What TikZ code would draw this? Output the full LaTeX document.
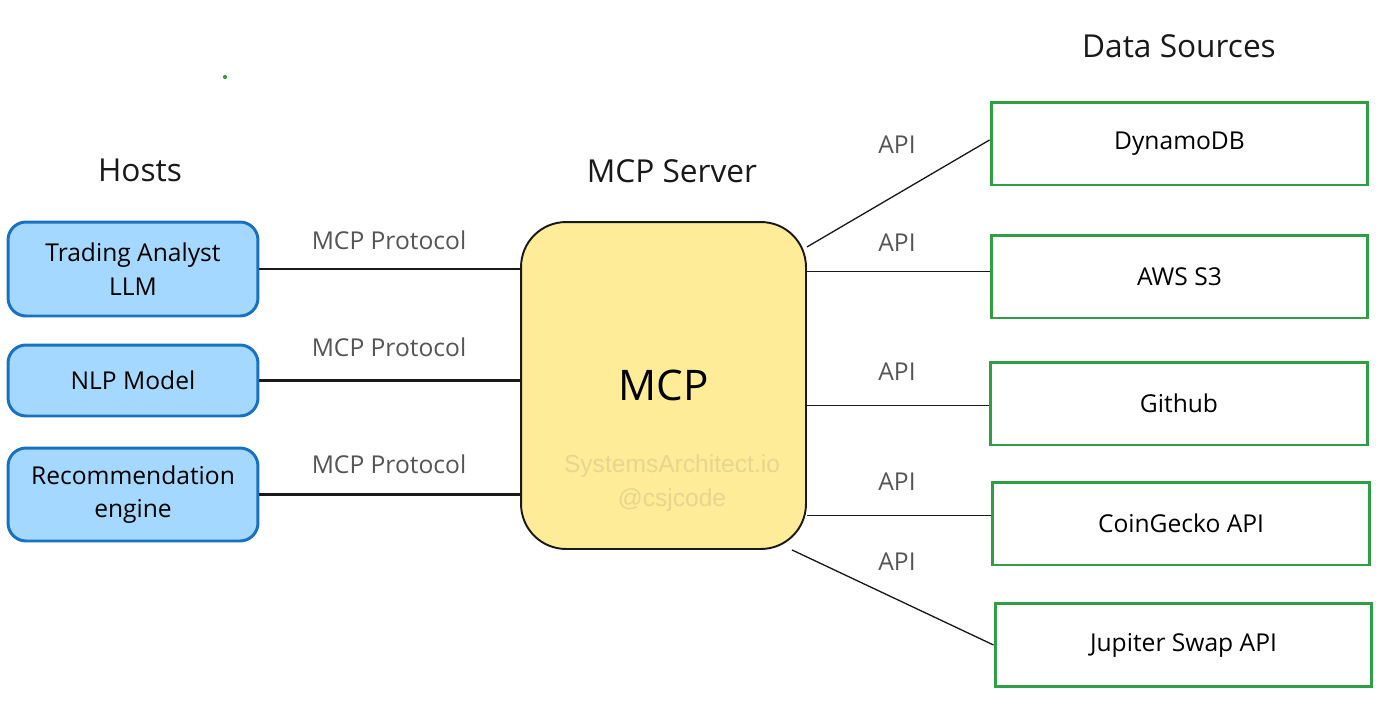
\documentclass[tikz,border=0pt]{standalone}
\RequirePackage{fontspec}
\setmainfont{Open Sans}
\newfontfamily\wmfont{Liberation Sans}
\definecolor{hostfill}{HTML}{A5D8FF}
\definecolor{hostline}{HTML}{1971C2}
\definecolor{mcpfill}{HTML}{FFEC99}
\definecolor{srcline}{HTML}{2F9E44}
\definecolor{lblgray}{HTML}{555555}
\definecolor{wmgray}{HTML}{E6D68E}
\tikzset{
    title/.style={text=black!90,font=\fontsize{18}{22}\selectfont},
    host/.style={draw=hostline,fill=hostfill,line width=1.7pt,rounded corners=0.36cm,
        minimum width=5cm,align=center,font=\fontsize{14}{19}\selectfont},
    server/.style={draw=black!90,fill=mcpfill,line width=1.1pt,rounded corners=0.9cm,
        minimum width=5.7cm,minimum height=6.54cm},
    source/.style={draw=srcline,line width=1.7pt,minimum width=7.54cm,minimum height=1.66cm,
        font=\fontsize{14}{17}\selectfont},
    proto/.style={text=lblgray,font=\fontsize{14}{17}\selectfont},
    protoline/.style={black!90,line width=1.4pt},
    apiline/.style={black!90,line width=0.75pt},
    watermark/.style={text=wmgray,font=\wmfont\fontsize{14}{17}\selectfont}
}
\begin{document}
\begin{tikzpicture}[x=0.02cm,y=-0.02cm]
            \useasboundingbox (0,0) rectangle (1400,707);
            \fill[srcline] (225,77) circle (1.2pt);
            \node[title] (thosts) at (140,170) {Hosts};
            \node[title] (tserver) at (672,171) {MCP Server};
            \node[title] (tsources) at (1179,46) {Data Sources};
            \node[host,minimum height=1.88cm] (h1) at (133,269) {Trading Analyst\\LLM};
            \node[host,minimum height=1.42cm] (h2) at (133,380.5) {NLP Model};
            \node[host,minimum height=1.86cm] (h3) at (133,494.5) {Recommendation\\engine};
            \node[server] (mcp) at (663.5,385.5) {};
            \node[font=\fontsize{24}{28}\selectfont] (mcplbl) at (mcp) {MCP};
            \node[watermark] (wm1) at (672,466) {SystemsArchitect.io};
            \node[watermark] (wm2) at (672,500) {@csjcode};
            \foreach \n/\x/\y/\t in {dyn/1179.5/143.5/DynamoDB,s3/1179.5/276.5/AWS S3,
                gh/1179/403.5/Github,cg/1181/523.5/CoinGecko API,jup/1183.5/645/Jupiter Swap API}
                \node[source] (\n) at (\x,\y) {\t};
            \foreach \h/\y in {h1/240,h2/347,h3/464}
                \node[proto] (p\h) at (389,\y) {MCP Protocol};
            \foreach \h in {h1,h2,h3}
                \draw[protoline] (\h.east) -- (\h.east -| mcp.west);
            \foreach \n/\y in {dyn/145,s3/243,gh/372,cg/482,jup/562}
                \node[proto] (a\n) at (897,\y) {API};
            \draw[apiline] (mcp.44.6) -- ([yshift=2pt]dyn.west);
            \foreach \n/\s in {s3/2.8pt,gh/-1pt,cg/4.5pt}
                \draw[apiline] ([yshift=\s]mcp.east |- \n.west) -- ([yshift=\s]\n.west);
            \draw[apiline] (mcp.-52) -- (jup.west);
        \end{tikzpicture}
\end{document}
